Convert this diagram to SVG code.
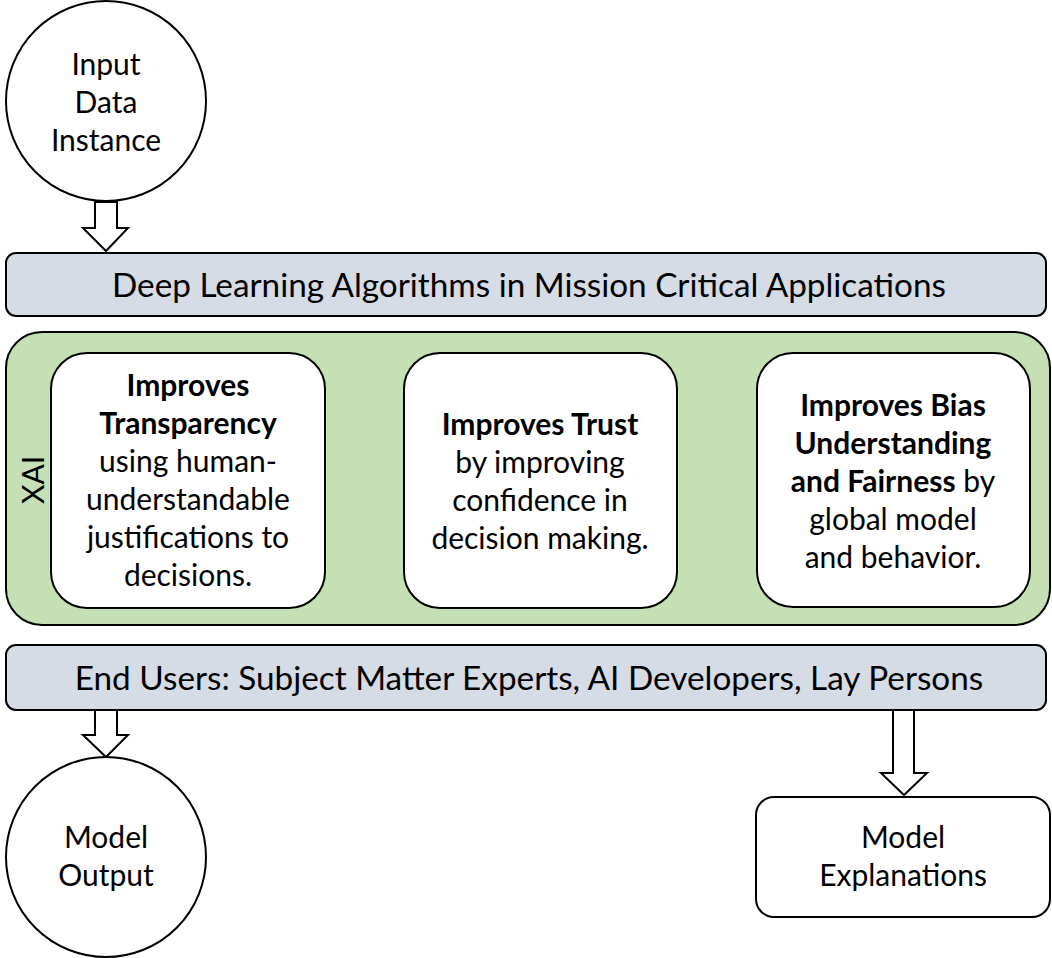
<svg xmlns="http://www.w3.org/2000/svg" width="1052" height="958" viewBox="0 0 1052 958">
<style>
.t{font-family:Lato,"Open Sans","Liberation Sans",sans-serif;font-size:30px;fill:#000;text-anchor:middle}
.b{font-weight:bold}
.big{font-size:33.3px}
.ln{stroke:#000;stroke-width:2}
.arrow{fill:#fff;stroke:#000;stroke-width:2;stroke-linejoin:miter}
</style>
<rect width="1052" height="958" fill="#fff"/>
<g id="connectors">
<path class="arrow" d="M95,202 V228 H83 L106,251 L128,228 H117 V202 Z"/>
<path class="arrow" d="M95,710 V735 H83 L106,757 L128,735 H117 V710 Z"/>
<path class="arrow" d="M893,710 V773 H881 L904,795 L927,773 H914 V710 Z"/>
</g>
<g id="input">
<circle cx="106" cy="101" r="100" fill="#fff" class="ln"/>
<text class="t" x="106" y="75">Input</text>
<text class="t" x="106" y="113">Data</text>
<text class="t" x="106" y="151">Instance</text>
</g>
<g id="deep-learning">
<rect x="6" y="253" width="1040" height="63" rx="10" fill="#D6DCE5" class="ln"/>
<text class="t big" x="529" y="297">Deep Learning Algorithms in Mission Critical Applications</text>
</g>
<g id="xai">
<rect x="6" y="332" width="1044" height="293" rx="36" fill="#C5E0B4" class="ln"/>
<text class="t" transform="translate(44,480) rotate(-90)">XAI</text>
</g>
<g id="transparency">
<rect x="51" y="353" width="274" height="255" rx="36" fill="#fff" class="ln"/>
<text class="t b" x="188" y="396">Improves</text>
<text class="t b" x="188" y="434">Transparency</text>
<text class="t" x="188" y="472">using human-</text>
<text class="t" x="188" y="510">understandable</text>
<text class="t" x="188" y="548">justifications to</text>
<text class="t" x="188" y="586">decisions.</text>
</g>
<g id="trust">
<rect x="404" y="353" width="273" height="255" rx="36" fill="#fff" class="ln"/>
<text class="t b" x="540" y="435">Improves Trust</text>
<text class="t" x="540" y="473">by improving</text>
<text class="t" x="540" y="511">confidence in</text>
<text class="t" x="540" y="549">decision making.</text>
</g>
<g id="bias">
<rect x="757" y="353" width="273" height="254" rx="36" fill="#fff" class="ln"/>
<text class="t b" x="893" y="416">Improves Bias</text>
<text class="t b" x="893" y="454">Understanding</text>
<text class="t" x="893" y="492"><tspan class="b">and Fairness</tspan> by</text>
<text class="t" x="893" y="530">global model</text>
<text class="t" x="893" y="568">and behavior.</text>
</g>
<g id="end-users">
<rect x="6" y="645" width="1040" height="65" rx="10" fill="#D6DCE5" class="ln"/>
<text class="t big" x="529" y="690">End Users: Subject Matter Experts, AI Developers, Lay Persons</text>
</g>
<g id="model-output">
<circle cx="106" cy="857" r="100" fill="#fff" class="ln"/>
<text class="t" x="106" y="848">Model</text>
<text class="t" x="106" y="886">Output</text>
</g>
<g id="model-explanations">
<rect x="756" y="797" width="294" height="120" rx="18" fill="#fff" class="ln"/>
<text class="t" x="903" y="848">Model</text>
<text class="t" x="903" y="886">Explanations</text>
</g>
</svg>
